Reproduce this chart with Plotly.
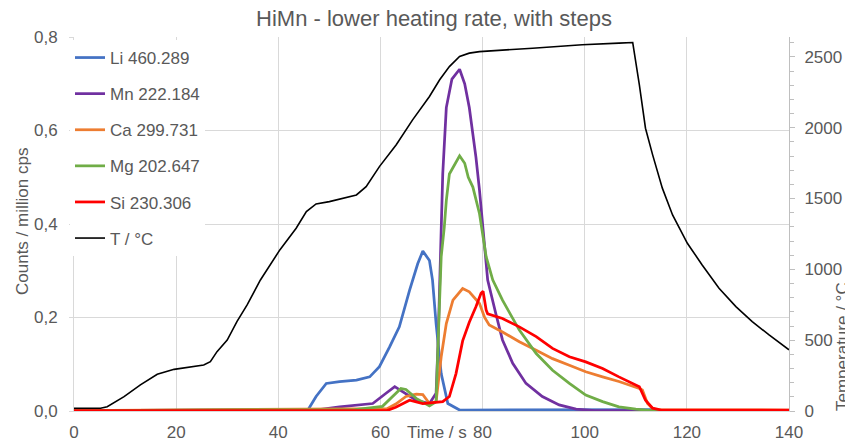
import plotly.graph_objects as go

# ---------------- data ----------------
li_t = [0, 45.8, 47.4, 49.4, 52, 55.3, 57.9, 59.8, 61.8, 63.7, 65.7, 67.3, 68.3, 69.6, 70.2, 70.9, 71.9, 73.2, 75.5, 95, 113, 115, 140]
li_v = [0.001, 0.002, 0.031, 0.059, 0.063, 0.066, 0.073, 0.095, 0.137, 0.18, 0.258, 0.315, 0.342, 0.322, 0.28, 0.187, 0.08, 0.016, 0.002, 0.003, 0.003, 0.001, 0.001]

mn_t = [0, 48, 52, 58.5, 61.1, 62.8, 64.4, 67, 69.6, 70.9, 71.3, 71.6, 71.9, 72.2, 72.9, 74, 75.5, 76.5, 77.4, 78.7, 79.4, 80.2, 81, 82.6, 83.9, 85.9, 88.5, 91.7, 95, 98.3, 102, 140]
mn_v = [0.001, 0.003, 0.009, 0.016, 0.038, 0.052, 0.041, 0.023, 0.016, 0.038, 0.15, 0.29, 0.393, 0.507, 0.649, 0.71, 0.731, 0.70, 0.649, 0.543, 0.472, 0.37, 0.28, 0.208, 0.152, 0.102, 0.059, 0.031, 0.013, 0.004, 0.001, 0.001]

ca_t = [0, 61.3, 63, 65, 67, 68.3, 69.6, 70.9, 71.9, 72.9, 74.2, 76.1, 77.4, 79.4, 80.4, 81.3, 83.9, 87.2, 90.5, 93.7, 97, 100.2, 103.5, 106.7, 110.7, 111.3, 112.3, 113.5, 140]
ca_v = [0.001, 0.005, 0.015, 0.031, 0.036, 0.035, 0.016, 0.02, 0.116, 0.187, 0.237, 0.262, 0.255, 0.23, 0.2, 0.184, 0.169, 0.148, 0.13, 0.112, 0.098, 0.084, 0.073, 0.063, 0.048, 0.045, 0.016, 0.003, 0.002]

mg_t = [0, 55, 60.4, 62.4, 64, 65, 67, 69.6, 70.9, 71.3, 71.9, 72.5, 72.9, 73.5, 75.5, 76.5, 77.2, 78.1, 79.4, 80.7, 82, 83.9, 87.2, 90.5, 93.7, 97, 100.2, 103.5, 106.7, 110, 113, 140]
mg_v = [0.001, 0.003, 0.01, 0.03, 0.048, 0.046, 0.027, 0.011, 0.02, 0.15, 0.33, 0.393, 0.45, 0.507, 0.546, 0.53, 0.50, 0.479, 0.422, 0.33, 0.28, 0.237, 0.173, 0.123, 0.087, 0.059, 0.034, 0.02, 0.009, 0.004, 0.001, 0.001]

si_t = [0, 61.3, 63, 64.4, 65.7, 68.3, 72.2, 73.5, 74.8, 76.1, 77.4, 78.7, 79.7, 80.1, 80.7, 81, 83.9, 87.2, 90.5, 93.7, 97, 100.2, 103.5, 106.7, 110.7, 111.9, 113.3, 115, 140]
si_v = [0.001, 0.001, 0.008, 0.016, 0.023, 0.016, 0.02, 0.031, 0.08, 0.15, 0.19, 0.223, 0.252, 0.256, 0.216, 0.208, 0.198, 0.18, 0.159, 0.134, 0.116, 0.105, 0.091, 0.073, 0.052, 0.023, 0.006, 0.002, 0.002]

temp_t = [0, 5.2, 6.5, 9.8, 13, 16.3, 19.6, 22.8, 25.4, 26.7, 28, 30, 31.9, 33.9, 36.5, 40.3, 43.5, 45.5, 47.4, 50, 55.3, 57.2, 59.8, 63.1, 66.3, 69.6, 71.6, 73.5, 75.5, 77.4, 79.4, 89.8, 99.5, 106.7, 109.4, 110.7, 111.9, 113.3, 115.2, 117.2, 120.1, 123, 126.3, 129.6, 132.8, 136.1, 140]
temp_v = [19, 19, 30, 101, 184, 259, 294, 313, 325, 348, 419, 501, 631, 749, 925, 1137, 1290, 1408, 1462, 1478, 1525, 1584, 1725, 1880, 2055, 2220, 2338, 2431, 2502, 2526, 2537, 2561, 2585, 2597, 2601, 2302, 1996, 1808, 1573, 1384, 1184, 1031, 866, 737, 631, 537, 432]

series_names = ["Li 460.289", "Mn 222.184", "Ca 299.731", "Mg 202.647", "Si 230.306", "T / °C"]
series_colors = ["#4472C4", "#7030A0", "#ED7D31", "#70AD47", "#FF0000", "#000000"]

x_ticks = [0, 20, 40, 60, 80, 100, 120, 140]
y_ticks = [0.0, 0.2, 0.4, 0.6, 0.8]
y_tick_text = ["0,0", "0,2", "0,4", "0,6", "0,8"]
y2_ticks = [0, 500, 1000, 1500, 2000, 2500]

FONT = "Liberation Sans, Arial, sans-serif"
GREY = "#595959"
GRID = "#D9D9D9"

# the page body has an 8px margin, so the figure is drawn 8px in from the window edge
OFF = 8
W, H = 853 - OFF, 441 - OFF
L, R, T, B = 74 - OFF, 64, 37 - OFF, 30
PW, PH = W - L - R, H - T - B


def px_x(page_x):
    return (page_x - OFF - L) / PW


def px_y(page_y):
    return (H - B - (page_y - OFF)) / PH


fig = go.Figure()
count_data = [(li_t, li_v), (mn_t, mn_v), (ca_t, ca_v), (mg_t, mg_v), (si_t, si_v)]
for i, (t, v) in enumerate(count_data):
    fig.add_trace(go.Scatter(x=t, y=v, mode="lines", name=series_names[i],
                             line=dict(color=series_colors[i], width=2.75),
                             legendgroup=str(i)))
fig.add_trace(go.Scatter(x=temp_t, y=temp_v, mode="lines", name=series_names[5],
                         line=dict(color=series_colors[5], width=1.6),
                         yaxis="y2", legendgroup="5"))

fig.update_layout(
    width=W, height=H,
    margin=dict(l=L, r=R, t=T, b=B),
    paper_bgcolor="white", plot_bgcolor="white",
    font=dict(family=FONT, size=17, color=GREY),
    title=dict(text="HiMn - lower heating rate, with steps", x=(434 - OFF) / W, xanchor="center",
               xref="container", yref="container",
               y=1 - (18 - OFF) / H, yanchor="middle", font=dict(size=22, color=GREY)),
    showlegend=True,
    legend=dict(x=px_x(70), y=px_y(40), xanchor="left", yanchor="top", bgcolor="white",
                traceorder="grouped", tracegroupgap=11,
                font=dict(size=17, color=GREY), itemwidth=30),
    xaxis=dict(range=[0, 140], tickvals=x_ticks, showgrid=True, gridcolor=GRID,
               showline=True, linecolor=GRID, zeroline=False, automargin=False,
               ticks="outside", ticklen=6, tickcolor="rgba(0,0,0,0)",
               tickfont=dict(size=17, color=GREY)),
    yaxis=dict(range=[0, 0.8], tickvals=y_ticks, ticktext=y_tick_text, showgrid=True,
               gridcolor=GRID, zeroline=False, showline=True, linecolor=GRID,
               ticks="outside", ticklen=4, tickcolor=GRID, automargin=False,
               ticklabelstandoff=8,
               tickfont=dict(size=17, color=GREY)),
    yaxis2=dict(range=[0, 2640], overlaying="y", side="right", tickvals=y2_ticks,
                showgrid=False, zeroline=False, showline=True, linecolor="#BFBFBF",
                ticks="outside", ticklen=5, tickcolor="#BFBFBF", automargin=False,
                ticklabelstandoff=6,
                minor=dict(dtick=100, ticks="outside", ticklen=4, tickcolor="#BFBFBF"),
                tickfont=dict(size=17, color=GREY)),
    annotations=[
        dict(text="Counts / million cps", xref="paper", yref="paper", x=px_x(22),
             y=px_y(222), xanchor="center", yanchor="middle", textangle=-90,
             showarrow=False, font=dict(size=17, color=GREY)),
        dict(text="Time / s", xref="paper", yref="paper", x=px_x(437), y=px_y(432),
             xanchor="center", yanchor="middle", showarrow=False,
             font=dict(size=17, color=GREY)),
        dict(text="Temperature / °C", xref="paper", yref="paper", x=px_x(842),
             y=px_y(347), xanchor="center", yanchor="middle", textangle=-90,
             showarrow=False, font=dict(size=17, color=GREY)),
    ],
)

fig.write_html("out.html")
